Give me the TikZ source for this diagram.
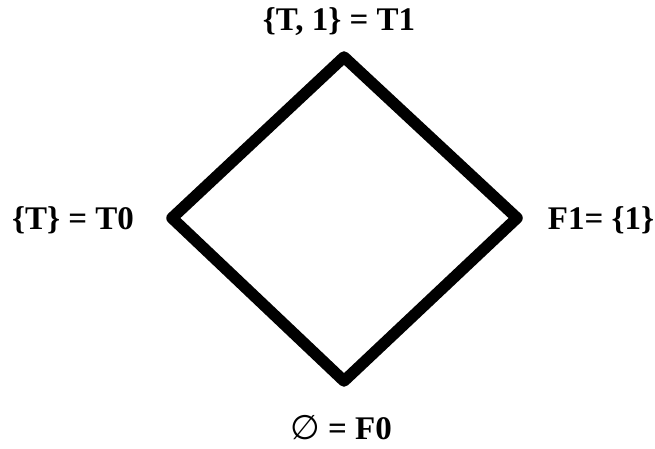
\documentclass[tikz,border=0pt]{standalone}
\usepackage{fontspec}
\setmainfont{Liberation Serif}
\newfontfamily\symfont{DejaVu Sans}
\begin{document}
\begin{tikzpicture}[x=1pt,y=-1pt,
  lbl/.style={font=\fontsize{33}{38}\selectfont\bfseries, inner sep=0pt},
  edge/.style={line width=11.5pt, line join=round, line cap=round}]
\useasboundingbox (0,0) rectangle (655,448);
\coordinate (t) at (344,57);
\coordinate (l) at (172,218);
\coordinate (r) at (517,218);
\coordinate (b) at (344,381);
\draw[edge] (t) -- (r) -- (b) -- (l) -- cycle;
\node[lbl] (lt) at (339,22) {\{T, 1\} = T1};
\node[lbl] (ll) at (73,220) {\{T\} = T0};
\node[lbl] (lr) at (601,220) {F1= \{1\}};
\node[lbl] (lb) at (341,428) {{\symfont\mdseries\fontsize{34}{38}\selectfont ∅} = F0};
\end{tikzpicture}
\end{document}
